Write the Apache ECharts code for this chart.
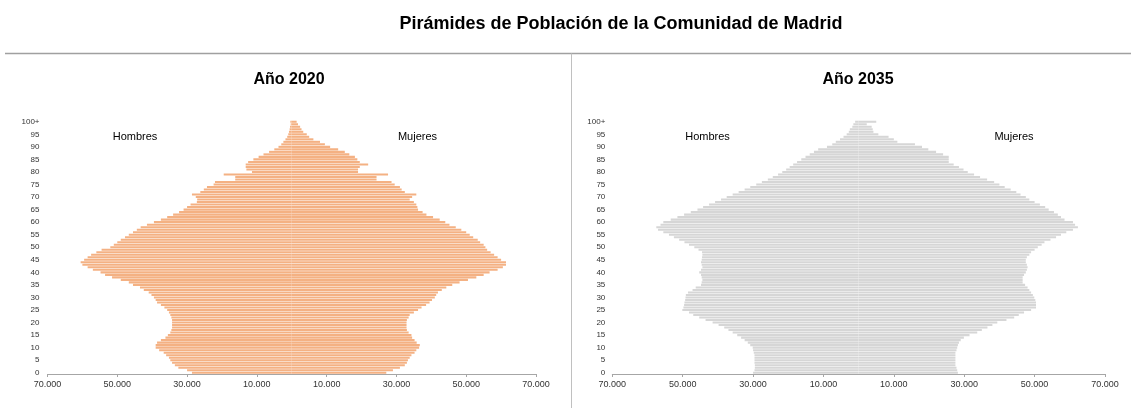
<!DOCTYPE html>
<html>
<head>
<meta charset="utf-8">
<script src="https://cdn.jsdelivr.net/npm/echarts@6/dist/echarts.min.js"></script>
<style>
  html, body { margin: 0; padding: 0; background: #fff; }
  #main { width: 1131px; height: 408px; }
</style>
</head>
<body>
<div id="main"></div>
<script>
// edades 0..100+
const ages = [];
for (let i = 0; i <= 100; i++) ages.push(i === 100 ? '100+' : String(i));

const xTicks = [-70000, -50000, -30000, -10000, 10000, 30000, 50000, 70000];

// miles de personas
const hombres2020 = [
  28.6, 30, 32.5, 33.5, 34.3, 34.8, 35.2, 36, 36.7, 38,
  39, 39, 38.6, 37.5, 36.2, 35.5, 34.8, 34.5, 34.3, 34.3,
  34.3, 34.3, 34.5, 34.8, 35.2, 35.7, 36.5, 37.5, 38.6, 39,
  39.5, 40.2, 41, 42.4, 43.5, 45.5, 46.7, 49, 51.5, 53.5,
  54.8, 57, 58.5, 60, 60.5, 59.5, 58.5, 57.5, 56, 54.5,
  52, 51, 50, 49, 47.8, 46.7, 45.5, 44.4, 43.3, 41.5,
  39.5, 37.5, 35.7, 34, 32.3, 31, 30, 29, 27.2, 27.1,
  27.5, 28.6, 26.2, 25.2, 24.3, 22.4, 22, 16.2, 16.2, 19.5,
  11.4, 13, 13.2, 13.2, 12.5, 11, 9.5, 8.1, 6.5, 5,
  3.8, 3, 2.4, 1.8, 1.3, 1, 0.8, 0.6, 0.5, 0.3,
  0.4
];
const mujeres2020 = [
  27.1, 29, 31, 32.4, 33, 33.3, 33.8, 34.3, 35.2, 35.7,
  36.5, 36.7, 35.8, 35.2, 34.5, 34.3, 33.5, 33, 32.9, 32.9,
  32.9, 33, 33.5, 33.8, 35, 36.2, 37.2, 38.5, 39.5, 40.2,
  41, 41.4, 41.9, 43, 44.3, 46, 48.1, 50.5, 52.9, 55,
  56.7, 59, 60.5, 61.4, 61.4, 60, 59, 58, 57, 56,
  55.5, 55, 54, 53.3, 52, 51, 50, 48.6, 47, 45.2,
  44, 42.4, 40.5, 38.6, 37.5, 36.2, 36, 35.7, 35, 33.8,
  34.5, 35.7, 32.4, 31.5, 31, 29.5, 28.6, 24.3, 24.3, 27.6,
  19, 19, 19.5, 21.9, 19.5, 18.8, 18.1, 16.5, 15.2, 13.3,
  11, 9.5, 8.1, 6.2, 5, 4.3, 3.3, 2.8, 2.4, 1.8,
  1.4
];
const hombres2035 = [
  30, 29.6, 29.5, 29.5, 29.6, 29.6, 29.6, 29.6, 29.8, 30,
  30.1, 30.8, 31.5, 32.4, 33.4, 34.5, 35.8, 37, 38.2, 39.8,
  41.5, 43.5, 45.3, 47, 48.2, 50.1, 49.8, 49.6, 49.5, 49.3,
  49.2, 49.1, 48.5, 47.2, 46.3, 44.8, 44.6, 44.4, 44.6, 44.8,
  45.3, 44.8, 44.4, 44.6, 44.8, 44.6, 44.5, 44.4, 44.5, 45.5,
  46.7, 48.2, 49.5, 51, 52.5, 53.9, 55.5, 57, 57.5, 56.3,
  55.5, 53.4, 51.5, 49.6, 47.7, 45.8, 44.2, 42.5, 40.8, 39.1,
  37.5, 35.8, 34.1, 32.4, 30.8, 29.1, 27.5, 25.8, 24.4, 22.9,
  21.7, 20.6, 19.6, 18.6, 17.5, 16.3, 15.1, 13.9, 12.7, 11.5,
  9, 7.5, 6.5, 5.3, 4.3, 3.4, 2.8, 2.5, 1.8, 1.5,
  1
];
const mujeres2035 = [
  28.2, 28, 27.8, 27.5, 27.5, 27.5, 27.5, 27.5, 27.5, 27.8,
  28, 28.2, 28.5, 29, 29.9, 31.5, 33.7, 35, 36.6, 38,
  39.4, 42, 44.2, 45.5, 47, 49, 50.4, 50.4, 50.4, 50.2,
  49.9, 49.5, 49, 48.5, 48, 47.3, 46.6, 46.6, 46.6, 47,
  47.5, 47.8, 48, 47.8, 47.5, 47.5, 47.8, 48.5, 49, 50,
  50.9, 52, 52.8, 54.5, 56.1, 57.5, 59, 60.9, 62.3, 61.5,
  60.9, 58.5, 57.5, 56.6, 55.5, 54, 53, 51.5, 50, 48.5,
  47.5, 46, 44.8, 43.2, 41.5, 40, 38.5, 36.5, 34.5, 32.8,
  31, 29.8, 28.5, 27, 25.6, 25.6, 25.6, 24, 22, 19.8,
  18, 16, 11, 10, 8.5, 5.6, 4.2, 4, 3.7, 2.3,
  5
];

function miles(v) {
  return String(Math.abs(v)).replace(/\B(?=(\d{3})+(?!\d))/g, '.');
}

const chart = echarts.init(document.getElementById('main'));

const grids = [
  { left: 47.5, width: 488.5, top: 120.5, height: 253.5 },
  { left: 612.3, width: 492.7, top: 120.5, height: 253.5 }
];

function xAxisFor(i) {
  return {
    type: 'value',
    gridIndex: i,
    min: -70000,
    max: 70000,
    interval: 10000,
    axisLine: { show: true, lineStyle: { color: '#a6a6a6', width: 1 } },
    axisTick: { show: true, length: 3, lineStyle: { color: '#a6a6a6' }, customValues: xTicks },
    axisLabel: {
      customValues: xTicks,
      formatter: miles,
      color: '#333',
      fontSize: 9,
      fontFamily: 'Liberation Sans',
      margin: 6
    },
    splitLine: { show: false }
  };
}

function yAxisFor(i, margin) {
  return {
    type: 'category',
    gridIndex: i,
    data: ages,
    axisLine: { show: false },
    axisTick: { show: false },
    axisLabel: { interval: 4, color: '#333', fontSize: 8, fontFamily: 'Liberation Sans', margin: margin }
  };
}

function barSeries(i, values, sign, color) {
  return {
    type: 'bar',
    xAxisIndex: i,
    yAxisIndex: i,
    stack: 'p' + i,
    barCategoryGap: '18%',
    itemStyle: { color: color },
    silent: true,
    data: values.map(v => sign * v * 1000)
  };
}

function txt(x, y, text, size, bold) {
  return {
    type: 'text',
    x: x, y: y,
    style: {
      text: text,
      fill: '#000',
      font: (bold ? 'bold ' : '') + size + 'px "Liberation Sans", Arial, sans-serif',
      textAlign: 'center',
      textVerticalAlign: 'middle'
    }
  };
}

chart.setOption({
  animation: false,
  grid: grids,
  xAxis: [xAxisFor(0), xAxisFor(1)],
  yAxis: [yAxisFor(0, 8), yAxisFor(1, 7)],
  series: [
    barSeries(0, hombres2020, -1, '#f4b183'),
    barSeries(0, mujeres2020, 1, '#f4b183'),
    barSeries(1, hombres2035, -1, '#d6d6d6'),
    barSeries(1, mujeres2035, 1, '#d6d6d6')
  ],
  graphic: [
    { type: 'line', shape: { x1: 5, y1: 53.5, x2: 1131, y2: 53.5 }, style: { stroke: '#a0a0a0', lineWidth: 1.5 } },
    { type: 'line', shape: { x1: 571.5, y1: 53.5, x2: 571.5, y2: 408 }, style: { stroke: '#c0c0c0', lineWidth: 1 } },
    txt(621, 24, 'Pirámides de Población de la Comunidad de Madrid', 18, true),
    txt(289, 80, 'Año 2020', 16, true),
    txt(858, 80, 'Año 2035', 16, true),
    txt(135, 137, 'Hombres', 11, false),
    txt(417.5, 137, 'Mujeres', 11, false),
    txt(707.5, 137, 'Hombres', 11, false),
    txt(1014, 137, 'Mujeres', 11, false)
  ]
});
</script>
</body>
</html>
